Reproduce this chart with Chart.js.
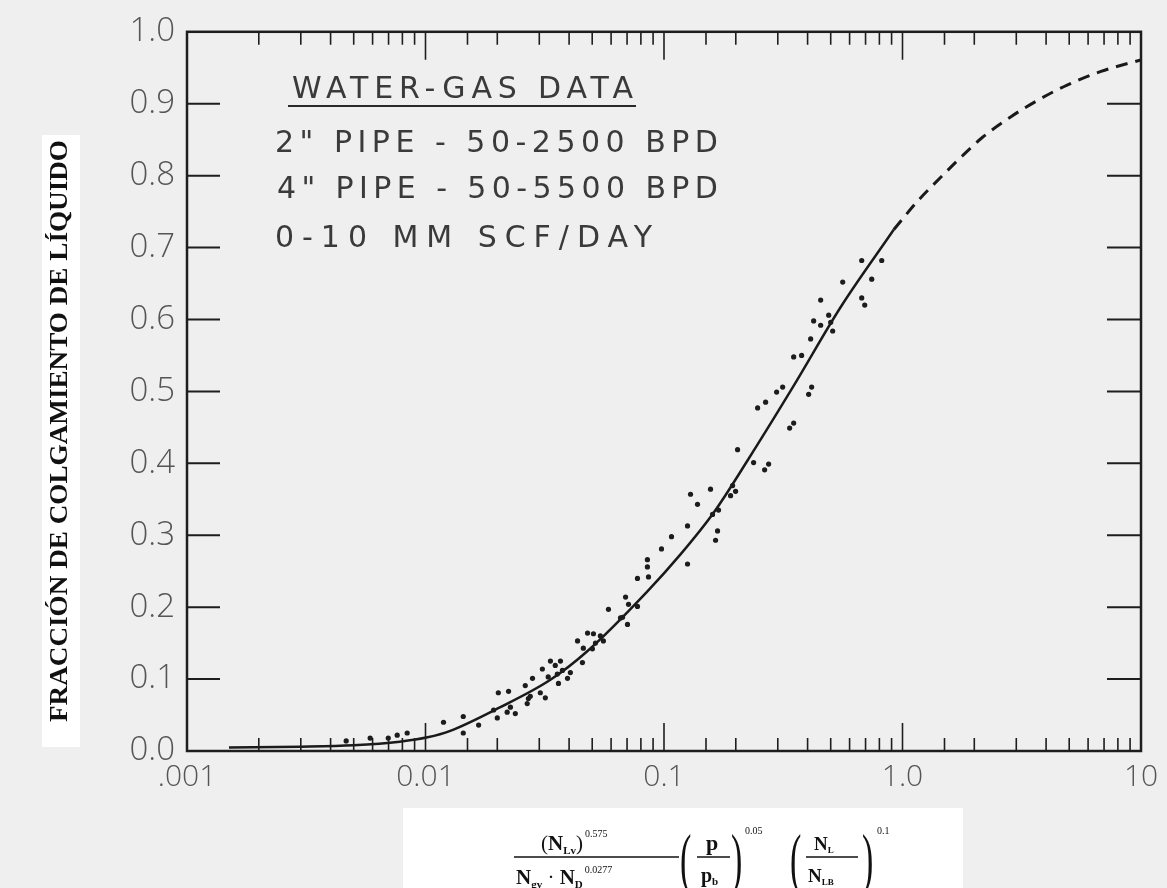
<!DOCTYPE html>
<html><head><meta charset="utf-8">
<script src="https://cdn.jsdelivr.net/npm/chart.js@4/dist/chart.umd.min.js"></script>
<style>
html,body{margin:0;padding:0;background:#efefef;}
#wrap{position:relative;width:1167px;height:888px;overflow:hidden;}
</style></head><body>
<div id="wrap"><canvas id="c" width="1167" height="888"></canvas></div>
<script>
// ---- data ----
const xTickValues = [0.001, 0.01, 0.1, 1, 10];
const xTickLabels = ['.001', '0.01', '0.1', '1.0', '10'];
const yTickLabels = ['0.0','0.1','0.2','0.3','0.4','0.5','0.6','0.7','0.8','0.9','1.0'];

const dataX = [0.00465,0.00586,0.00698,0.00761,0.00838,0.0119,0.0144,0.0144,0.0167,0.0193,
  0.0200,0.0202,0.0223,0.0220,0.0238,0.0227,0.0267,0.0270,0.0262,0.0281,
  0.0303,0.0318,0.0309,0.0334,0.0368,0.0357,0.0361,0.0394,0.0405,0.0327,
  0.0275,0.0455,0.0434,0.0459,0.0478,0.0506,0.0501,0.0557,0.0585,0.0657,
  0.0690,0.0710,0.0703,0.0774,0.0774,0.0852,0.0852,0.0861,0.0976,0.1075,
  0.1255,0.1255,0.1292,0.1382,0.1567,0.1598,0.1693,0.1677,0.1645,0.1902,
  0.1996,0.1939,0.2035,0.2375,0.2746,0.2642,0.2469,0.2667,0.2966,0.3144,
  0.3364,0.3497,0.3497,0.3776,0.4160,0.4041,0.4120,0.4241,0.4538,0.4538,
  0.4904,0.5000,0.5096,0.5614,0.6745,0.6944,0.6745,0.8183,0.7430,0.0541,
  0.0670,0.0350,0.0516,0.0375];
const dataY = [0.014,0.018,0.018,0.022,0.025,0.040,0.048,0.025,0.036,0.057,
  0.046,0.081,0.083,0.054,0.052,0.061,0.066,0.073,0.091,0.101,
  0.081,0.074,0.114,0.125,0.125,0.107,0.094,0.101,0.109,0.103,
  0.076,0.123,0.153,0.143,0.164,0.163,0.142,0.153,0.197,0.185,
  0.214,0.204,0.176,0.201,0.240,0.266,0.256,0.242,0.281,0.298,
  0.313,0.260,0.357,0.343,0.364,0.329,0.335,0.306,0.293,0.355,
  0.361,0.369,0.419,0.401,0.399,0.391,0.477,0.485,0.499,0.506,
  0.449,0.456,0.548,0.550,0.506,0.496,0.573,0.598,0.592,0.627,
  0.606,0.596,0.584,0.652,0.630,0.620,0.682,0.682,0.656,0.160,
  0.186,0.119,0.150,0.112];

const fitX = [0.0015,0.003,0.005,0.0078,0.0102,0.0127,0.0206,0.0334,0.0478,0.0852,0.117,0.162,0.225,0.35,0.55,0.92];
const fitY = [0.005,0.006,0.008,0.013,0.019,0.028,0.061,0.099,0.139,0.222,0.273,0.332,0.405,0.508,0.617,0.725];

const extX = [0.92,1.16,1.44,1.75,2.16,2.85,3.7,4.9,6.8,10];
const extY = [0.725,0.765,0.797,0.825,0.853,0.882,0.905,0.926,0.945,0.961];

const noteLines = ['WATER-GAS DATA', '2" PIPE - 50-2500 BPD', '4" PIPE - 50-5500 BPD', '0-10 MM SCF/DAY'];
const yTitle = 'FRACCIÓN DE COLGAMIENTO DE LÍQUIDO';

// ---- helpers ----
const zip = (xs, ys) => xs.map((x, i) => ({x, y: ys[i]}));
const SERIF = '"Liberation Serif","Times New Roman",serif';
const SANS = '"Open Sans","DejaVu Sans",sans-serif';
const NOTE = '"DejaVu Sans","Open Sans",sans-serif';

function runs(ctx, x, y, parts) {
  for (const p of parts) {
    ctx.font = p.f;
    ctx.fillText(p.t, x, y + (p.dy || 0));
    x += ctx.measureText(p.t).width + (p.gap || 0);
  }
  return x;
}

const decor = {
  id: 'decor',
  beforeDraw(chart) {
    const ctx = chart.ctx;
    ctx.save();
    ctx.fillStyle = '#efefef';
    ctx.fillRect(0, 0, chart.width, chart.height);
    ctx.fillStyle = '#ffffff';
    ctx.fillRect(42, 135, 38, 612);
    ctx.fillRect(403, 808, 560, 80);
    ctx.restore();
  },
  afterDraw(chart) {
    const ctx = chart.ctx;
    const a = chart.chartArea;
    const xs = chart.scales.x, ys = chart.scales.y;
    ctx.save();
    ctx.strokeStyle = '#1e1e1e';
    ctx.lineWidth = 2.5;
    ctx.strokeRect(a.left, a.top, a.right - a.left, a.bottom - a.top);
    ctx.lineWidth = 2;
    for (const t of ys.ticks) {
      if (t.value <= 0.0001 || t.value >= 0.9999) continue;
      const py = ys.getPixelForValue(t.value);
      ctx.beginPath();
      ctx.moveTo(a.left, py); ctx.lineTo(a.left + 33, py);
      ctx.moveTo(a.right - 34, py); ctx.lineTo(a.right, py);
      ctx.stroke();
    }
    ctx.lineWidth = 1.6;
    for (const t of xs.ticks) {
      const px = xs.getPixelForValue(t.value);
      if (px <= a.left + 1 || px >= a.right - 1) continue;
      const lg = Math.log10(t.value);
      const major = Math.abs(lg - Math.round(lg)) < 1e-6;
      const len = major ? 28 : 13;
      ctx.beginPath();
      ctx.moveTo(px, a.bottom); ctx.lineTo(px, a.bottom - len);
      ctx.moveTo(px, a.top); ctx.lineTo(px, a.top + len);
      ctx.stroke();
    }
    // notes
    ctx.fillStyle = '#3a3a3a';
    ctx.textBaseline = 'alphabetic';
    const noteX = [292, 275, 277, 275];
    const noteW = [341, 443, 441, 377];
    const noteB = [98, 152, 198, 247];
    ctx.font = '30px ' + NOTE;
    noteLines.forEach((s, i) => {
      ctx.letterSpacing = '0px';
      const w = ctx.measureText(s).width;
      const sp = (noteW[i] - w) / Math.max(1, s.length - 1);
      ctx.letterSpacing = sp.toFixed(2) + 'px';
      ctx.fillText(s, noteX[i], noteB[i]);
    });
    ctx.letterSpacing = '0px';
    ctx.strokeStyle = '#2a2a2a';
    ctx.lineWidth = 2;
    ctx.beginPath(); ctx.moveTo(288, 106); ctx.lineTo(636, 106); ctx.stroke();

    // y title (rotated)
    ctx.save();
    ctx.translate(67, 431);
    ctx.rotate(-Math.PI / 2);
    ctx.fillStyle = '#111';
    ctx.font = 'bold 25px ' + SERIF;
    ctx.textAlign = 'center';
    const tw = ctx.measureText(yTitle).width;
    ctx.scale(582 / tw, 1);
    ctx.fillText(yTitle, 0, 0);
    ctx.restore();

    // x title (formula)
    ctx.fillStyle = '#111';
    ctx.strokeStyle = '#111';
    ctx.textAlign = 'left';
    const B = 'bold 21px ' + SERIF, R = '21px ' + SERIF, S = 'bold 11px ' + SERIF, P = '10px ' + SERIF;
    runs(ctx, 541, 850, [{t:'(', f:R}, {t:'N', f:B}, {t:'Lv', f:S, dy:4}, {t:')', f:R, gap:2}, {t:'0.575', f:P, dy:-13}]);
    ctx.lineWidth = 1.3;
    ctx.beginPath(); ctx.moveTo(514, 857); ctx.lineTo(679, 857); ctx.stroke();
    runs(ctx, 516, 884, [{t:'N', f:B}, {t:'gv', f:S, dy:4}, {t:' · ', f:R}, {t:'N', f:B}, {t:'D', f:S, dy:4, gap:2}, {t:'0.0277', f:P, dy:-11}]);
    ctx.save();
    ctx.font = '300 34px ' + SERIF;
    ctx.setTransform(1, 0, 0, 2.0, 0, 0);
    ctx.fillText('(', 680, 873 / 2.0 + 4);
    ctx.fillText(')', 731, 873 / 2.0 + 4);
    ctx.fillText('(', 790, 873 / 2.0 + 4);
    ctx.fillText(')', 862, 873 / 2.0 + 4);
    ctx.restore();
    runs(ctx, 706, 850, [{t:'p', f:'bold 22px ' + SERIF}]);
    ctx.beginPath(); ctx.moveTo(697, 857); ctx.lineTo(730, 857); ctx.stroke();
    runs(ctx, 701, 882, [{t:'p', f:'bold 20px ' + SERIF}, {t:'b', f:S, dy:3}]);
    runs(ctx, 745, 834, [{t:'0.05', f:P}]);
    runs(ctx, 814, 850, [{t:'N', f:'bold 19px ' + SERIF}, {t:'L', f:'bold 9px ' + SERIF, dy:3}]);
    ctx.beginPath(); ctx.moveTo(806, 857); ctx.lineTo(858, 857); ctx.stroke();
    runs(ctx, 808, 882, [{t:'N', f:'bold 19px ' + SERIF}, {t:'LB', f:'bold 9px ' + SERIF, dy:3}]);
    runs(ctx, 877, 834, [{t:'0.1', f:P}]);
    ctx.restore();
  }
};

new Chart(document.getElementById('c'), {
  type: 'scatter',
  data: {
    datasets: [
      {
        label: 'data', data: zip(dataX, dataY),
        pointRadius: 2.6, pointBackgroundColor: '#1c1c1c', pointBorderWidth: 0, showLine: false
      },
      {
        label: 'correlation', data: zip(fitX, fitY), showLine: true,
        borderColor: '#1a1a1a', borderWidth: 2.5, pointRadius: 0, cubicInterpolationMode: 'monotone', fill: false
      },
      {
        label: 'extrapolation', data: zip(extX, extY), showLine: true,
        borderColor: '#1a1a1a', borderWidth: 3, borderDash: [12, 8], pointRadius: 0, cubicInterpolationMode: 'monotone', fill: false
      }
    ]
  },
  options: {
    responsive: false, animation: false, devicePixelRatio: 1,
    layout: { padding: { left: 0, top: 25, right: 26, bottom: 0 } },
    plugins: { legend: { display: false }, tooltip: { enabled: false } },
    scales: {
      x: {
        type: 'logarithmic', min: 0.001, max: 10,
        grid: { display: false, drawTicks: false },
        border: { display: false },
        afterFit(s) { s.height = 137; },
        ticks: {
          autoSkip: false, maxRotation: 0, minRotation: 0, padding: 8,
          color: '#555', font: { family: SANS, size: 30, weight: '300' },
          callback(v) {
            const i = xTickValues.findIndex(t => Math.abs(Math.log10(t) - Math.log10(v)) < 1e-6);
            return i >= 0 ? xTickLabels[i] : '';
          }
        }
      },
      y: {
        type: 'linear', min: 0, max: 1,
        grid: { display: false, drawTicks: false },
        border: { display: false },
        afterFit(s) { s.width = 187; },
        ticks: {
          stepSize: 0.1, padding: 12,
          color: '#555', font: { family: SANS, size: 33, weight: '300' },
          callback(v, i) { return yTickLabels[i]; }
        }
      }
    }
  },
  plugins: [decor]
});
</script>
</body></html>
